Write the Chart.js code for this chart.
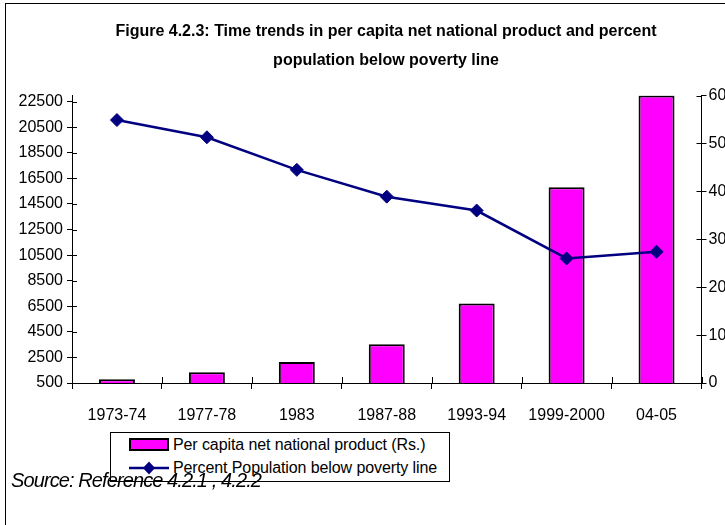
<!DOCTYPE html>
<html>
<head>
<meta charset="utf-8">
<script src="https://cdn.jsdelivr.net/npm/chart.js@4.4.0/dist/chart.umd.min.js"></script>
<style>
  html, body { margin: 0; padding: 0; background: #fff; overflow: hidden; }
  #wrap { position: relative; width: 772px; height: 525px; }
  #chart { position: absolute; left: 0; top: 0; }
  .frame { position: absolute; left: 5px; top: 3px; width: 800px; height: 600px; border: 1px solid #000; pointer-events: none; }
  .legend { position: absolute; left: 110px; top: 432px; width: 340px; height: 50px; box-sizing: border-box;
            border: 1px solid #000; background: #fff; font: 16px 'Liberation Sans', Arial, sans-serif; color: #000; }
  .legend .sw { position: absolute; left: 18px; }
  .legend .txt { position: absolute; left: 62px; line-height: 18px; white-space: nowrap; letter-spacing: -0.1px; }
  .source { position: absolute; left: 11px; top: 470px; font: italic 20px 'Liberation Sans', Arial, sans-serif;
            line-height: 20px; letter-spacing: -0.9px; color: #000; white-space: nowrap; }
</style>
</head>
<body>
<div id="wrap">
  <canvas id="chart" width="772" height="525"></canvas>
  <div class="frame"></div>
  <div class="legend" id="legend"></div>
  <div class="source">Source: Reference 4.2.1 , 4.2.2</div>
</div>
<script>
// chart data
const categories = ['1973-74', '1977-78', '1983', '1987-88', '1993-94', '1999-2000', '04-05'];
const perCapitaNNP = [790, 1340, 2140, 3530, 6720, 15800, 22970];
const povertyPct = [54.9, 51.3, 44.5, 38.9, 36.0, 26.0, 27.4];
const leftTicks = [500, 2500, 4500, 6500, 8500, 10500, 12500, 14500, 16500, 18500, 20500, 22500];
const rightTicks = [0, 10, 20, 30, 40, 50, 60];

const barLabel = 'Per capita net national product (Rs.)';
const lineLabel = 'Percent Population below poverty line';
const FONT = "'Liberation Sans', Arial, sans-serif";

Chart.defaults.font.family = FONT;
Chart.defaults.font.size = 16;
Chart.defaults.color = '#000';

// Excel style tick marks that cross the axis line
const crossTicks = {
  id: 'crossTicks',
  afterDatasetsDraw(chart) {
    const { ctx, chartArea, scales } = chart;
    ctx.save();
    ctx.strokeStyle = '#000';
    ctx.lineWidth = 1;
    ctx.beginPath();
    leftTicks.forEach(v => {
      const y = Math.round(scales.y.getPixelForValue(v)) + 0.5;
      ctx.moveTo(chartArea.left, y);
      ctx.lineTo(chartArea.left + 5, y);
    });
    rightTicks.forEach(v => {
      const y = Math.round(scales.y1.getPixelForValue(v)) + 0.5;
      ctx.moveTo(chartArea.right - 5, y);
      ctx.lineTo(chartArea.right, y);
    });
    for (let i = 0; i <= categories.length; i++) {
      const x = Math.round(scales.x.getPixelForValue(i - 0.5)) + 0.5;
      ctx.moveTo(x, chartArea.bottom - 6);
      ctx.lineTo(x, chartArea.bottom);
    }
    ctx.stroke();
    ctx.restore();
  }
};

new Chart(document.getElementById('chart'), {
  type: 'bar',
  data: {
    labels: categories,
    datasets: [
      {
        type: 'bar',
        label: barLabel,
        data: perCapitaNNP,
        yAxisID: 'y',
        backgroundColor: '#FF00FF',
        borderColor: '#000',
        borderWidth: 2,
        categoryPercentage: 1,
        barPercentage: 0.4,
        order: 2
      },
      {
        type: 'line',
        label: lineLabel,
        data: povertyPct,
        yAxisID: 'y1',
        borderColor: '#000080',
        backgroundColor: '#000080',
        borderWidth: 2.5,
        pointStyle: 'rectRot',
        pointRadius: 6.5,
        pointBorderWidth: 1,
        tension: 0,
        order: 1
      }
    ]
  },
  options: {
    responsive: false,
    animation: false,
    layout: { padding: 0 },
    plugins: {
      legend: { display: false },
      tooltip: { enabled: false },
      title: {
        display: true,
        text: ['Figure 4.2.3: Time trends in per capita net national product and percent', 'population below poverty line'],
        font: { family: FONT, size: 16, weight: 'bold', lineHeight: 1.8 },
        color: '#000',
        padding: { top: 17, bottom: 21 }
      }
    },
    scales: {
      x: {
        offset: true,
        grid: { offset: true, drawOnChartArea: false, tickLength: 6, color: '#000' },
        border: { color: '#000', width: 1 },
        ticks: { padding: 17, maxRotation: 0, autoSkip: false, font: { size: 16 } },
        afterFit: s => { s.height = 142; }
      },
      y: {
        position: 'left',
        min: 500,
        max: 22970,
        afterBuildTicks: s => { s.ticks = leftTicks.map(v => ({ value: v })); },
        grid: { drawOnChartArea: false, tickLength: 5, color: '#000' },
        border: { color: '#000', width: 1 },
        ticks: { padding: 4, font: { size: 16 }, callback: v => String(v) },
        afterFit: s => { s.width = 72; }
      },
      y1: {
        position: 'right',
        min: 0,
        max: 60,
        afterBuildTicks: s => { s.ticks = rightTicks.map(v => ({ value: v })); },
        grid: { drawOnChartArea: false, tickLength: 5, color: '#000' },
        border: { color: '#000', width: 1 },
        ticks: { padding: 2, font: { size: 16 }, callback: v => String(v) },
        afterFit: s => { s.width = 70.5; }
      }
    }
  },
  plugins: [crossTicks]
});

// legend in html, boxed like the original
const legendEl = document.getElementById('legend');
legendEl.innerHTML = `
  <span class="sw" style="top:5px;width:40px;height:13px;box-sizing:border-box;background:#FF00FF;border:2px solid #000;"></span>
  <span class="txt" style="top:3px;">${barLabel}</span>
  <svg class="sw" style="top:28px;" width="40" height="14" viewBox="0 0 40 14">
    <line x1="0" y1="7" x2="40" y2="7" stroke="#000080" stroke-width="2.5"/>
    <polygon points="20,0.5 26,7 20,13.5 14,7" fill="#000080"/>
  </svg>
  <span class="txt" style="top:26px;">${lineLabel}</span>
`;
</script>
</body>
</html>
